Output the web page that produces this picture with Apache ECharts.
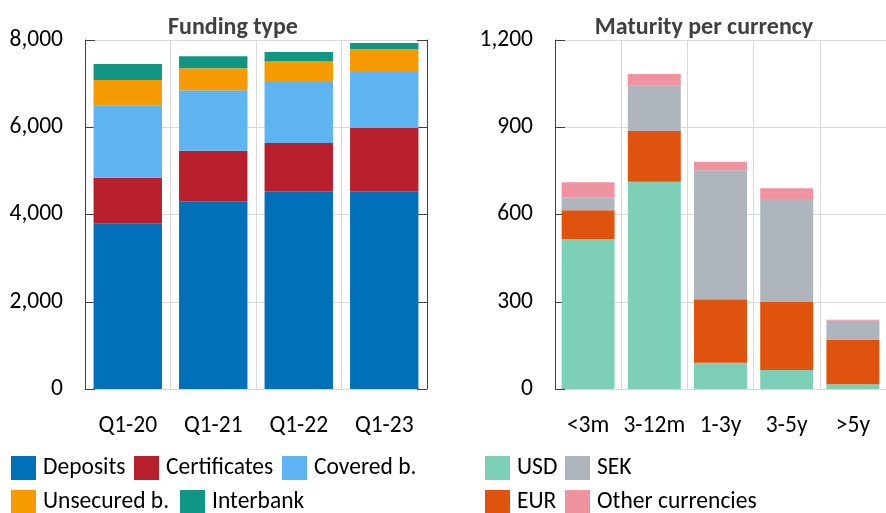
<!DOCTYPE html>
<html>
<head>
<meta charset="utf-8">
<script src="https://cdn.jsdelivr.net/npm/echarts@6/dist/echarts.min.js"></script>
<style>html,body{margin:0;padding:0;background:#fff}#c{width:886px;height:513px}</style>
</head>
<body>
<div id="c"></div>
<script>
// ---- data ----
const quarters = ['Q1-20', 'Q1-21', 'Q1-22', 'Q1-23'];
const deposits = [3790, 4305, 4535, 4535];
const certificates = [1055, 1155, 1105, 1450];
const coveredB = [1645, 1390, 1400, 1280];
const unsecuredB = [595, 505, 480, 525];
const interbank = [365, 275, 205, 140];

const maturities = ['<3m', '3-12m', '1-3y', '3-5y', '>5y'];
const usd = [515, 713, 90, 65, 16];
const eur = [100, 174, 219, 234, 154];
const sek = [44, 156, 443, 354, 65];
const otherCur = [52, 40, 29, 37, 3];

const FONT = 'Carlito, Lato, sans-serif';
const FS = 23.5;

const fundingSeries = [
  ['Deposits', deposits, '#0070B8'],
  ['Certificates', certificates, '#B81F2D'],
  ['Covered b.', coveredB, '#5EB3F1'],
  ['Unsecured b.', unsecuredB, '#F59A00'],
  ['Interbank', interbank, '#119683']
];
const currencySeries = [
  ['USD', usd, '#7DD0B7'],
  ['EUR', eur, '#E0530F'],
  ['SEK', sek, '#AFB5BC'],
  ['Other currencies', otherCur, '#F093A0']
];

const series = [];
fundingSeries.forEach(([n, d, c]) => series.push({
  name: n, type: 'bar', stack: 'f', data: d, xAxisIndex: 0, yAxisIndex: 0,
  barWidth: '80%', itemStyle: {color: c}, animation: false
}));
currencySeries.forEach(([n, d, c]) => series.push({
  name: n, type: 'bar', stack: 'm', data: d, xAxisIndex: 1, yAxisIndex: 2,
  barWidth: '80%', itemStyle: {color: c}, animation: false
}));

// legend layout: [name, left, top]
const legendPos = [
  ['Deposits', 11, 456], ['Certificates', 134, 456], ['Covered b.', 282, 456],
  ['Unsecured b.', 11, 490], ['Interbank', 180, 490],
  ['USD', 485, 456], ['SEK', 565, 456],
  ['EUR', 485, 490], ['Other currencies', 565, 490]
];
const legends = legendPos.map(([n, l, t]) => ({
  data: [n], left: l, top: t, padding: 0, itemWidth: 25, itemHeight: 24,
  icon: 'rect', selectedMode: false,
  textStyle: {fontFamily: FONT, fontSize: FS, color: '#000', padding: [0, 0, 0, 2]}
}));

const axisLineDark = {show: true, lineStyle: {color: '#404040', width: 1}};
const grid = {color: '#D9D9D9', width: 1};

const option = {
  backgroundColor: '#fff',
  animation: false,
  title: [
    {text: 'Funding type', left: 228, top: 11, textAlign: 'center',
     textStyle: {fontFamily: FONT, fontSize: 24, fontWeight: 'bold', color: '#404040'}},
    {text: 'Maturity per currency', left: 699, top: 11, textAlign: 'center',
     textStyle: {fontFamily: FONT, fontSize: 24, fontWeight: 'bold', color: '#404040'}}
  ],
  legend: legends,
  grid: [
    {left: 85, top: 40, width: 342, height: 349},
    {left: 555, top: 40, width: 342, height: 349}
  ],
  xAxis: [
    {type: 'category', gridIndex: 0, data: quarters,
     axisLine: {show: true, lineStyle: grid}, axisTick: {show: false},
     splitLine: {show: true, lineStyle: grid},
     axisLabel: {fontFamily: FONT, fontSize: FS, color: '#000', margin: 25, interval: 0}},
    {type: 'category', gridIndex: 1, data: maturities,
     axisLine: {show: true, lineStyle: grid}, axisTick: {show: false},
     splitLine: {show: true, lineStyle: grid},
     axisLabel: {fontFamily: FONT, fontSize: FS, color: '#000', margin: 25, interval: 0}}
  ],
  yAxis: [
    {type: 'value', gridIndex: 0, min: 0, max: 8000, interval: 2000,
     axisLine: axisLineDark, axisTick: {show: true, inside: true, length: 10, lineStyle: {color: '#404040'}},
     splitLine: {show: true, lineStyle: grid},
     axisLabel: {fontFamily: FONT, fontSize: FS, color: '#000', margin: 22,
       formatter: v => v.toLocaleString('en-US')}},
    {type: 'value', gridIndex: 0, position: 'right', min: 0, max: 8000, interval: 2000,
     axisLine: axisLineDark, axisTick: {show: true, inside: true, length: 10, lineStyle: {color: '#404040'}},
     splitLine: {show: false}, axisLabel: {show: false}},
    {type: 'value', gridIndex: 1, min: 0, max: 1200, interval: 300,
     axisLine: axisLineDark, axisTick: {show: true, inside: true, length: 10, lineStyle: {color: '#404040'}},
     splitLine: {show: true, lineStyle: grid},
     axisLabel: {fontFamily: FONT, fontSize: FS, color: '#000', margin: 22,
       formatter: v => v.toLocaleString('en-US')}}
  ],
  series: series
};

const chart = echarts.init(document.getElementById('c'), null, {renderer: 'canvas'});
chart.setOption(option);
</script>
</body>
</html>
